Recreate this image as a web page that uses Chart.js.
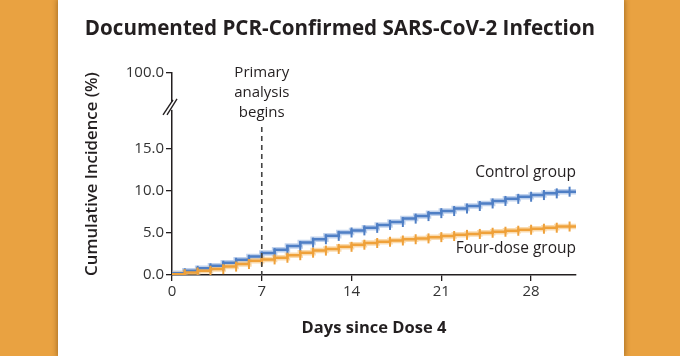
<!DOCTYPE html>
<html><head><meta charset="utf-8">
<script src="https://cdn.jsdelivr.net/npm/chart.js@4"></script>
<style>
html,body{margin:0;padding:0;width:680px;height:356px;overflow:hidden;background:#E9A241;}
#panel{position:absolute;left:58px;top:0;width:566px;height:356px;background:#fff;box-shadow:0 0 5px 1px rgba(90,50,0,0.45);}
#wrap{position:absolute;left:0;top:0;width:680px;height:356px;}
</style></head><body>
<div id="panel"></div>
<div id="wrap"><canvas id="c" width="680" height="356"></canvas></div>
<script>
const titleText = 'Documented PCR-Confirmed SARS-CoV-2 Infection';
const xTitle = 'Days since Dose 4';
const yTitle = 'Cumulative Incidence (%)';
const days = [0,1,2,3,4,5,6,7,8,9,10,11,12,13,14,15,16,17,18,19,20,21,22,23,24,25,26,27,28,29,30,31,31.5];
const control = [0,0.2,0.5,0.8,1.1,1.45,1.8,2.2,2.6,3.0,3.45,3.85,4.25,4.65,5.05,5.3,5.6,5.95,6.3,6.7,7.0,7.35,7.6,7.9,8.2,8.5,8.8,9.05,9.3,9.5,9.7,9.9,9.9];
const fourDose = [0,0.1,0.3,0.5,0.7,1.0,1.3,1.7,1.85,2.05,2.35,2.65,2.9,3.1,3.35,3.6,3.8,3.95,4.1,4.25,4.35,4.5,4.63,4.77,4.88,5.02,5.14,5.26,5.38,5.5,5.62,5.76,5.76];
const seriesNames = ['Control group','Four-dose group'];
const xTicks = [0,7,14,21,28];
const yTickValues = [0,5,10,15,24];
const yTickLabels = ['0.0','5.0','10.0','15.0','100.0'];
const yBreakValue = 20.1;
const primaryDay = 7;
const primaryLabel = ['Primary','analysis','begins'];

const FONT = "'Open Sans', sans-serif";
const BLUE = '#4F7FC5', BLUE_H = 'rgba(130,165,220,0.5)';
const ORANGE = '#EFA13A', ORANGE_H = 'rgba(245,190,110,0.55)';
const INK = '#231F20';

const mk = (data) => days.map((d,i)=>({x:d,y:data[i]}));
const lastIdx = days.length-1;
const markerR = ctx => (ctx.dataIndex===0 || ctx.dataIndex===lastIdx) ? 0 : 5;

const annot = {
  id:'annot',
  afterDatasetsDraw(chart){
    const {ctx, chartArea:ca, scales:{x,y}} = chart;
    ctx.save();
    const px = x.getPixelForValue(primaryDay);
    ctx.strokeStyle = '#444'; ctx.lineWidth = 1.6; ctx.setLineDash([5,4]);
    ctx.beginPath(); ctx.moveTo(px, ca.top+54); ctx.lineTo(px, ca.bottom); ctx.stroke();
    ctx.setLineDash([]);
    ctx.fillStyle = INK; ctx.font = '15px '+FONT; ctx.textAlign='center'; ctx.textBaseline='middle';
    primaryLabel.forEach((t,i)=>ctx.fillText(t, px, ca.top + i*20));
    ctx.font = '15.5px '+FONT;
    ctx.textAlign='right';
    ctx.fillText(seriesNames[0], ca.right, y.getPixelForValue(control[lastIdx]) - 19);
    ctx.fillText(seriesNames[1], ca.right, y.getPixelForValue(fourDose[lastIdx]) + 22);
    const by = y.getPixelForValue(yBreakValue);
    const ax = ca.left;
    ctx.fillStyle='#fff'; ctx.fillRect(ax-4, by-4, 8, 8);
    ctx.strokeStyle = INK; ctx.lineWidth = 1.4;
    ctx.beginPath(); ctx.moveTo(ax-9, by+9); ctx.lineTo(ax+1, by-6); ctx.stroke();
    ctx.beginPath(); ctx.moveTo(ax-5, by+9); ctx.lineTo(ax+5, by-7); ctx.stroke();
    ctx.restore();
  }
};

new Chart(document.getElementById('c'), {
  type:'line',
  data:{datasets:[
    {data:mk(control), stepped:'after', borderColor:BLUE_H, borderWidth:5.5, pointRadius:0, order:4},
    {data:mk(fourDose), stepped:'after', borderColor:ORANGE_H, borderWidth:5.5, pointRadius:0, order:3},
    {label:seriesNames[0], data:mk(control), stepped:'after', borderColor:BLUE, borderWidth:2.5,
     pointStyle:'line', rotation:90, pointRadius:markerR, pointBorderColor:BLUE, pointBorderWidth:2, pointBackgroundColor:BLUE, order:2},
    {label:seriesNames[1], data:mk(fourDose), stepped:'after', borderColor:ORANGE, borderWidth:2.5,
     pointStyle:'line', rotation:90, pointRadius:markerR, pointBorderColor:ORANGE, pointBorderWidth:2, pointBackgroundColor:ORANGE, order:1}
  ]},
  options:{
    responsive:false, animation:false, events:[],
    layout:{padding:{left:0,right:0,top:0,bottom:0}},
    plugins:{
      legend:{display:false}, tooltip:{enabled:false},
      title:{display:true, text:titleText, color:INK, font:{family:FONT,size:20.6,weight:'bold'}, padding:{top:17,bottom:31.3}}
    },
    scales:{
      x:{type:'linear', min:0, max:31.5,
        afterBuildTicks:s=>{s.ticks = xTicks.map(v=>({value:v}));},
        afterFit:s=>{s.height=81;},
        grid:{drawOnChartArea:false, drawTicks:true, tickLength:6, color:INK, lineWidth:1.3},
        border:{display:true, color:INK, width:1.5},
        ticks:{font:{family:FONT,size:15}, color:'#333', padding:2, maxRotation:0, autoSkip:false},
        title:{display:true, text:xTitle, color:INK, font:{family:FONT,size:16.5,weight:'bold'}, padding:{top:0,bottom:18}}
      },
      y:{type:'linear', min:0, max:24,
        afterBuildTicks:s=>{s.ticks = yTickValues.map(v=>({value:v}));},
        afterFit:s=>{s.width=172;},
        grid:{drawOnChartArea:false, drawTicks:true, tickLength:6, color:INK, lineWidth:1.3},
        border:{display:true, color:INK, width:1.5},
        ticks:{font:{family:FONT,size:15}, color:'#333', padding:2, autoSkip:false,
          callback:(v)=>{const i=yTickValues.indexOf(v); return i>=0?yTickLabels[i]:'';}},
        title:{display:true, text:yTitle, color:INK, font:{family:FONT,size:16.8,weight:'600'}, padding:{top:82,bottom:0}}
      },
      yR:{type:'linear', position:'right', display:true,
        afterFit:s=>{s.width=104;},
        grid:{display:false}, border:{display:false}, ticks:{display:false}
      }
    }
  },
  plugins:[annot]
});
</script>
</body></html>
